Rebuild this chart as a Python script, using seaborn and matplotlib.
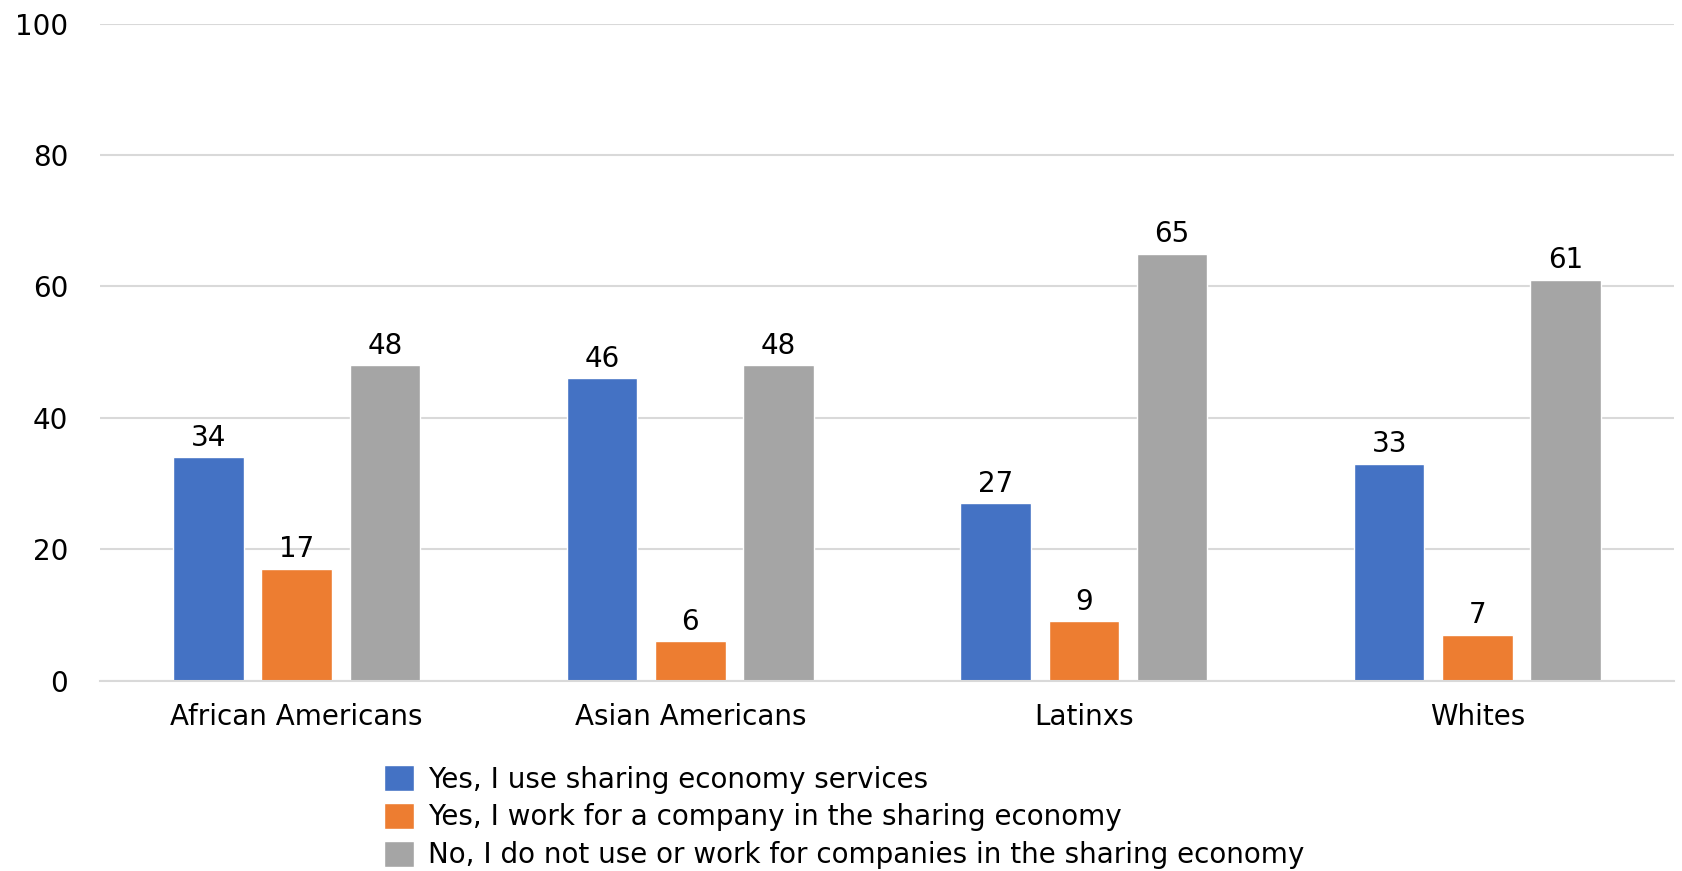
import pandas as pd
import seaborn as sns
import matplotlib.pyplot as plt

# Données
groups = ["African Americans", "Asian Americans", "Latinxs", "Whites"]
series = [
    "Yes, I use sharing economy services",
    "Yes, I work for a company in the sharing economy",
    "No, I do not use or work for companies in the sharing economy",
]
use_services = [34, 46, 27, 33]
work_for = [17, 6, 9, 7]
neither = [48, 48, 65, 61]
colors = ["#4472C4", "#ED7D31", "#A5A5A5"]

rows = []
for name, vals in zip(series, [use_services, work_for, neither]):
    for g, v in zip(groups, vals):
        rows.append({"group": g, "answer": name, "value": v})
df = pd.DataFrame(rows)

sns.set_theme(style="white")
plt.rcParams["font.family"] = ["DejaVu Sans"]

fig = plt.figure(figsize=(16.83, 8.71), dpi=100)
ax = fig.add_axes([0.0594, 0.2187, 0.9353, 0.7542])

sns.barplot(data=df, x="group", y="value", hue="answer", palette=colors,
            width=0.672, gap=0.2, saturation=1, ax=ax, legend=True)

for cont in ax.containers:
    ax.bar_label(cont, fmt="%d", padding=4, fontsize=20, color="black")

ax.set_ylim(0, 100)
ax.set_yticks(range(0, 101, 20))
ax.set_xlim(-0.5, 3.5)
ax.yaxis.grid(True, color="#d9d9d9", linewidth=1.5)
ax.set_axisbelow(True)
for s in ["top", "right", "left"]:
    ax.spines[s].set_visible(False)
ax.spines["bottom"].set_color("#d9d9d9")
ax.spines["bottom"].set_linewidth(1.5)
ax.tick_params(axis="both", length=0, labelsize=20, colors="black")
ax.tick_params(axis="y", pad=23)
ax.tick_params(axis="x", pad=16)
ax.set_xlabel("")
ax.set_ylabel("")

handles, labels = ax.get_legend_handles_labels()
ax.get_legend().remove()
fig.legend(handles, labels, loc="upper left", bbox_to_anchor=(0.228, 0.122),
           frameon=False, fontsize=20, labelcolor="black",
           handlelength=1.1, handleheight=1.1,
           handletextpad=0.5, labelspacing=0.33, borderpad=0, borderaxespad=0)

plt.savefig("out.png", dpi=100)
